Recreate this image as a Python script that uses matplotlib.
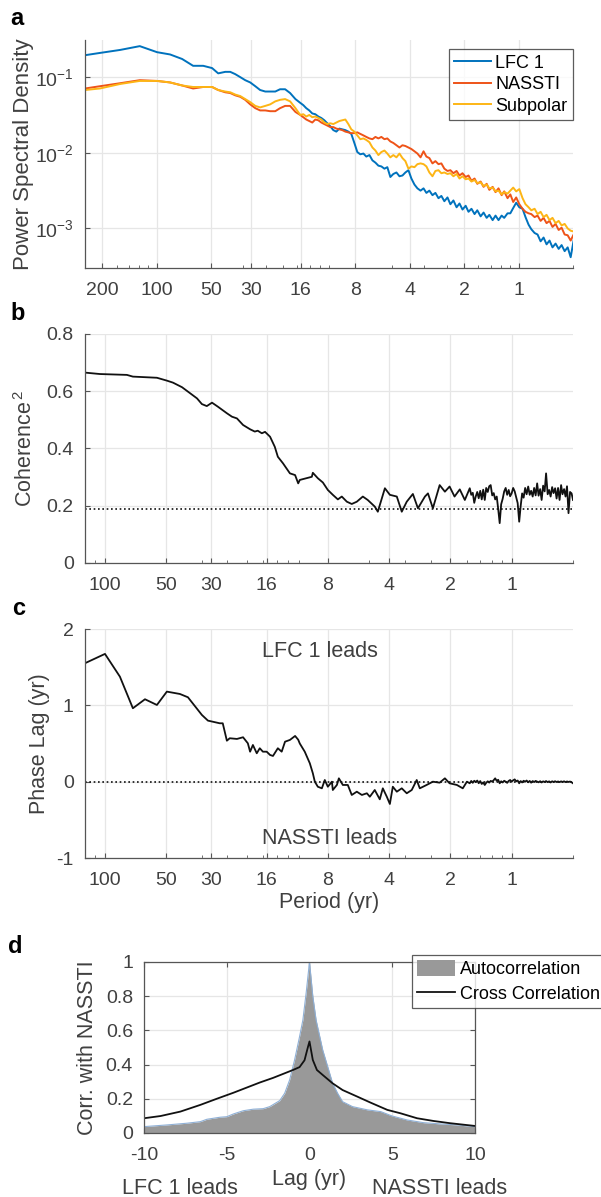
import numpy as np
import matplotlib
matplotlib.use("Agg")
import matplotlib.pyplot as plt
from matplotlib.ticker import LogLocator, NullFormatter, NullLocator, FixedLocator
from matplotlib.patches import Patch
from matplotlib.lines import Line2D

plt.rcParams["font.family"] = ["Liberation Sans", "DejaVu Sans"]
plt.rcParams["mathtext.fontset"] = "custom"
plt.rcParams["mathtext.rm"] = "Liberation Sans"
plt.rcParams["mathtext.it"] = "Liberation Sans:italic"
plt.rcParams["mathtext.bf"] = "Liberation Sans:bold"

# ---- panel a: power spectra (period in yr, log10 of PSD) ----
psd_period = [249, 206, 159, 124, 99.5, 84.3, 72.3, 62.9, 55.3, 49.4, 45.7, 41.8, 39.2,
              36.8, 34.5, 32.4, 30.4, 28.5, 26.8, 25.1, 23.6, 22.1, 20.8, 19.5, 18.3, 17.1,
              16.08, 15.47, 14.90, 14.34, 13.80, 13.28, 12.78, 12.30, 11.84, 11.40,
              10.97, 10.56, 10.16, 9.78, 9.42, 9.06, 8.72, 8.40, 8.08, 7.78,
              7.49, 7.20, 6.94, 6.67, 6.42, 6.18, 5.95, 5.73, 5.51, 5.31,
              5.11, 4.92, 4.73, 4.55, 4.38, 4.22, 4.06, 3.91, 3.76, 3.62,
              3.48, 3.35, 3.23, 3.11, 2.99, 2.88, 2.77, 2.67, 2.57, 2.47,
              2.38, 2.29, 2.20, 2.12, 2.04, 1.96, 1.89, 1.82, 1.75, 1.69,
              1.62, 1.56, 1.50, 1.45, 1.39, 1.34, 1.29, 1.24, 1.20, 1.15,
              1.11, 1.07, 1.03, 0.99, 0.95, 0.915, 0.88, 0.85, 0.815, 0.785,
              0.755, 0.727, 0.70, 0.674, 0.649, 0.624, 0.600, 0.578, 0.556, 0.535,
              0.515, 0.496]

lfc1_log = [-0.71, -0.68, -0.64, -0.59, -0.67, -0.70, -0.76, -0.85, -0.85, -0.88, -0.95, -0.93, -0.93,
            -0.96, -1.00, -1.04, -1.07, -1.12, -1.17, -1.19, -1.19, -1.19, -1.16, -1.16, -1.21, -1.29,
            -1.34, -1.37, -1.41, -1.44, -1.48, -1.49, -1.52, -1.54, -1.57, -1.61,
            -1.65, -1.70, -1.72, -1.68, -1.69, -1.70, -1.72, -1.75, -1.87, -1.99,
            -2.02, -2.01, -2.05, -2.03, -2.10, -2.13, -2.17, -2.18, -2.21, -2.19,
            -2.32, -2.28, -2.26, -2.31, -2.30, -2.26, -2.23, -2.34, -2.42, -2.47,
            -2.50, -2.47, -2.53, -2.50, -2.56, -2.53, -2.60, -2.57, -2.64, -2.59,
            -2.68, -2.63, -2.72, -2.67, -2.75, -2.70, -2.78, -2.74, -2.81, -2.76,
            -2.84, -2.79, -2.86, -2.82, -2.89, -2.83, -2.89, -2.83, -2.86, -2.80,
            -2.80, -2.73, -2.66, -2.72, -2.74, -2.85, -2.95, -3.01, -3.06, -3.08,
            -3.17, -3.12, -3.21, -3.16, -3.25, -3.20, -3.27, -3.22, -3.30, -3.25,
            -3.38, -3.16]

nassti_log = [-1.15, -1.12, -1.08, -1.04, -1.05, -1.07, -1.11, -1.15, -1.13, -1.13, -1.17, -1.20, -1.21,
              -1.24, -1.26, -1.30, -1.36, -1.41, -1.44, -1.44, -1.45, -1.45, -1.41, -1.38, -1.38, -1.46,
              -1.50, -1.53, -1.56, -1.58, -1.60, -1.56, -1.57, -1.60, -1.62, -1.64,
              -1.66, -1.66, -1.68, -1.69, -1.70, -1.72, -1.73, -1.74, -1.74, -1.73,
              -1.75, -1.77, -1.79, -1.81, -1.82, -1.79, -1.81, -1.79, -1.82, -1.81,
              -1.85, -1.87, -1.90, -1.93, -1.90, -1.91, -1.93, -1.95, -1.98, -2.01,
              -2.06, -1.98, -2.05, -2.07, -2.14, -2.11, -2.15, -2.14, -2.21, -2.24,
              -2.23, -2.27, -2.24, -2.30, -2.27, -2.32, -2.30, -2.37, -2.34, -2.41,
              -2.38, -2.45, -2.41, -2.49, -2.45, -2.52, -2.47, -2.56, -2.51, -2.60,
              -2.55, -2.65, -2.59, -2.68, -2.74, -2.78, -2.80, -2.81, -2.85, -2.83,
              -2.90, -2.86, -2.93, -2.90, -2.98, -2.94, -3.02, -2.99, -3.08, -3.09,
              -3.16, -3.08]

subpolar_log = [-1.17, -1.15, -1.09, -1.05, -1.05, -1.07, -1.11, -1.13, -1.13, -1.13, -1.17, -1.19, -1.20,
                -1.23, -1.25, -1.29, -1.33, -1.38, -1.40, -1.38, -1.36, -1.32, -1.30, -1.29, -1.32, -1.41,
                -1.50, -1.49, -1.52, -1.50, -1.53, -1.52, -1.54, -1.56, -1.60, -1.62,
                -1.61, -1.62, -1.60, -1.58, -1.57, -1.56, -1.62, -1.69, -1.72, -1.77,
                -1.82, -1.81, -1.83, -1.86, -1.93, -1.97, -2.03, -1.99, -1.97, -2.01,
                -2.06, -2.03, -2.06, -2.01, -2.07, -2.11, -2.21, -2.18, -2.19, -2.15,
                -2.14, -2.15, -2.18, -2.26, -2.31, -2.24, -2.23, -2.27, -2.26, -2.28,
                -2.27, -2.31, -2.28, -2.34, -2.31, -2.35, -2.34, -2.38, -2.36, -2.40,
                -2.39, -2.44, -2.42, -2.47, -2.46, -2.51, -2.50, -2.55, -2.52, -2.54,
                -2.50, -2.46, -2.51, -2.48, -2.60, -2.68, -2.72, -2.76, -2.74, -2.81,
                -2.78, -2.85, -2.82, -2.89, -2.86, -2.93, -2.90, -2.96, -2.94, -3.00,
                -3.03, -3.04]

# fine period grid for the noisy high-frequency end of panels b and c
hf_period = [1.608, 1.581, 1.554, 1.528, 1.503, 1.477, 1.453, 1.428, 1.404, 1.381,
             1.357, 1.335, 1.312, 1.290, 1.269, 1.247, 1.226, 1.206, 1.185, 1.166,
             1.146, 1.127, 1.108, 1.089, 1.071, 1.053, 1.035, 1.018, 1.001, 0.984,
             0.967, 0.951, 0.935, 0.919, 0.904, 0.889, 0.874, 0.859, 0.845, 0.830,
             0.816, 0.803, 0.789, 0.776, 0.763, 0.750, 0.738, 0.725, 0.713, 0.701,
             0.689, 0.678, 0.666, 0.655, 0.644, 0.633, 0.623, 0.612, 0.602, 0.592,
             0.582, 0.572, 0.563, 0.553, 0.544, 0.535, 0.526, 0.517, 0.508, 0.500]

# ---- panel b: squared coherence ----
coh_period = [125, 105.5, 77.8, 72.7, 55.4, 49.5, 46.2, 41.7, 38.1, 35.2, 33.3, 31.5, 29.7,
              27.8, 25.1, 23.7, 22.4, 20.9, 19.3, 18.3, 17.7, 16.9, 16.3, 15.4, 14.6, 14.1,
              13.3, 12.3, 11.6, 11.2, 11.0, 10.2, 9.60, 9.49, 8.97, 8.47, 8.01, 7.57, 7.15,
              6.84, 6.46, 6.11, 5.77, 5.39, 5.10, 4.71, 4.55, 4.20, 3.97, 3.67, 3.47, 3.28,
              3.06, 2.89, 2.67, 2.58, 2.44, 2.26, 2.13, 2.02, 1.91, 1.80, 1.70] + hf_period
coherence = [0.665, 0.660, 0.657, 0.651, 0.647, 0.637, 0.630, 0.614, 0.593, 0.575, 0.555, 0.548, 0.560,
             0.546, 0.523, 0.511, 0.505, 0.482, 0.467, 0.459, 0.462, 0.453, 0.458, 0.441, 0.406, 0.371,
             0.348, 0.313, 0.307, 0.278, 0.290, 0.296, 0.301, 0.315, 0.296, 0.281, 0.255, 0.238, 0.222,
             0.232, 0.214, 0.206, 0.214, 0.232, 0.220, 0.197, 0.179, 0.261, 0.238, 0.232, 0.179, 0.214,
             0.241, 0.191, 0.232, 0.243, 0.191, 0.272, 0.249, 0.267, 0.232, 0.257, 0.220,
             0.261, 0.238, 0.245, 0.210, 0.232, 0.248, 0.226, 0.252, 0.222, 0.256,
             0.220, 0.262, 0.248, 0.268, 0.272, 0.236, 0.244, 0.222, 0.232, 0.190,
             0.139, 0.205, 0.224, 0.250, 0.262, 0.238, 0.255, 0.233, 0.243, 0.262,
             0.250, 0.230, 0.209, 0.144, 0.198, 0.243, 0.228, 0.262, 0.240, 0.267,
             0.238, 0.252, 0.232, 0.262, 0.236, 0.278, 0.235, 0.258, 0.220, 0.270,
             0.250, 0.313, 0.240, 0.255, 0.232, 0.265, 0.244, 0.261, 0.225, 0.262,
             0.220, 0.272, 0.240, 0.258, 0.232, 0.268, 0.174, 0.248, 0.243, 0.220]
coh_sig = 0.19

# ---- panel c: phase lag ----
lag_period = [125, 99.7, 84.2, 72.7, 63.4, 55.4, 49.5, 42.7, 39.0, 33.3, 31.1, 27.2, 26.3,
              25.1, 24.3, 22.4, 20.9, 19.8, 19.3, 18.7, 17.9, 17.3, 16.7, 16.0, 15.4, 14.9,
              14.1, 13.5, 13.0, 12.3, 11.6, 11.2, 11.0, 10.4, 9.82, 9.49, 9.28, 8.97, 8.57,
              8.29, 8.01, 7.65, 7.57, 7.23, 7.07, 6.76, 6.39, 6.11, 5.77, 5.45, 5.15, 4.98,
              4.71, 4.45, 4.30, 4.11, 3.97, 3.84, 3.67, 3.47, 3.28, 3.10, 2.93, 2.83, 2.62,
              2.44, 2.26, 2.13, 2.02, 1.86, 1.74, 1.66] + hf_period
phase_lag = [1.552, 1.674, 1.376, 0.962, 1.080, 1.005, 1.180, 1.149, 1.106, 0.874, 0.800, 0.765, 0.765,
             0.537, 0.569, 0.560, 0.582, 0.503, 0.393, 0.481, 0.372, 0.438, 0.393, 0.393, 0.350, 0.337,
             0.438, 0.393, 0.524, 0.547, 0.599, 0.550, 0.500, 0.393, 0.241, 0.110, 0.0, -0.066, -0.087,
             0.022, -0.066, 0.0, -0.109, -0.043, 0.044, -0.043, -0.043, -0.174, -0.131, -0.174, -0.152, -0.197,
             -0.109, -0.231, -0.087, -0.197, -0.292, -0.066, -0.131, -0.087, -0.152, -0.109, 0.022, -0.087, -0.043,
             0.0, -0.013, 0.044, -0.021, -0.043, -0.087, 0.0,
             -0.021, 0.010, -0.015, 0.012, -0.005, 0.015, -0.020, 0.008, -0.030, -0.010,
             -0.043, -0.015, 0.005, -0.012, 0.010, 0.002, 0.020, 0.044, 0.010, 0.025,
             -0.021, 0.005, -0.010, 0.012, 0.0, -0.015, 0.010, 0.022, 0.0, 0.018,
             0.030, 0.005, 0.015, -0.021, 0.008, -0.010, 0.012, 0.0, 0.015, -0.008,
             0.010, -0.013, 0.008, -0.005, 0.010, 0.0, -0.008, 0.006, -0.010, 0.004,
             -0.004, 0.008, -0.006, 0.004, -0.010, 0.005, -0.004, 0.006, -0.005, 0.003,
             -0.006, 0.004, -0.004, 0.005, -0.006, 0.003, -0.004, 0.002, -0.008, -0.021]

# ---- panel d: correlations vs lag ----
acf_lag = [-10, -8.6, -7.4, -6.6, -6.2, -5.4, -5.0, -4.6, -4.0, -3.4, -2.8, -2.4, -1.8, -1.5,
           -1.2, -0.9, -0.6, -0.4, -0.2, 0, 0.2, 0.4, 0.8, 1.1, 1.4, 1.7, 2.0, 2.6, 3.5, 4.3,
           5.0, 5.9, 6.9, 7.9, 8.9, 10]
autocorr = [0.037, 0.047, 0.057, 0.066, 0.080, 0.092, 0.095, 0.111, 0.130, 0.139, 0.142, 0.154, 0.189, 0.232,
            0.310, 0.427, 0.563, 0.66, 0.82, 1.0, 0.80, 0.66, 0.485, 0.388, 0.29, 0.232, 0.183, 0.154, 0.135, 0.125,
            0.099, 0.076, 0.06, 0.053, 0.047, 0.037]
xcf_lag = [-10, -9.0, -7.8, -6.6, -5.6, -4.6, -3.8, -3.0, -2.2, -1.6, -1.0, -0.6, -0.3, -0.1, 0,
           0.2, 0.45, 0.8, 1.4, 2.0, 2.9, 3.7, 4.7, 5.5, 6.5, 7.5, 8.5, 10]
crosscorr = [0.086, 0.099, 0.125, 0.164, 0.200, 0.235, 0.265, 0.295, 0.322, 0.345, 0.368, 0.385, 0.425, 0.500, 0.535,
             0.427, 0.368, 0.339, 0.290, 0.251, 0.212, 0.177, 0.135, 0.115, 0.086, 0.070, 0.057, 0.041]

period_ticks_a = [200, 100, 50, 30, 16, 8, 4, 2, 1]
period_ticks_bc = [100, 50, 30, 16, 8, 4, 2, 1]

AX_COLOR = "#555555"
TXT_COLOR = "#404040"


def style(ax, box=False):
    for s in ["top", "right"]:
        ax.spines[s].set_visible(box)
    for s in ax.spines.values():
        s.set_color(AX_COLOR)
        s.set_linewidth(0.9)
    ax.tick_params(which="both", direction="in", colors=AX_COLOR, labelcolor=TXT_COLOR,
                   labelsize=14, top=box, right=box)
    ax.tick_params(which="major", length=3.5)
    ax.tick_params(which="minor", length=2)
    ax.tick_params(axis="x", pad=10)
    ax.tick_params(axis="y", pad=8)
    ax.grid(True, which="major", color="#e6e6e6", lw=0.9)
    ax.set_axisbelow(True)


def period_axis(ax, ticks, pmax):
    ax.set_xscale("log")
    ax.set_xlim(1 / pmax, 2)
    ax.set_xticks([1 / p for p in ticks], [str(p) for p in ticks])
    ax.xaxis.set_minor_locator(LogLocator(base=10, subs=np.arange(2, 10)))
    ax.xaxis.set_minor_formatter(NullFormatter())


fig = plt.figure(figsize=(6.01, 11.97), dpi=100)

# a
ax = fig.add_axes([0.1414, 0.7761, 0.812, 0.1905])
freq = 1 / np.array(psd_period)
ax.plot(freq, 10 ** np.array(lfc1_log), color="#0072BD", lw=1.4, label="LFC 1")
ax.plot(freq, 10 ** np.array(nassti_log), color="#EE5318", lw=1.4, label="NASSTI")
ax.plot(freq, 10 ** np.array(subpolar_log), color="#FDB515", lw=1.4, label="Subpolar")
ax.set_yscale("log")
ax.set_ylim(3e-4, 0.31)
ax.yaxis.set_major_locator(FixedLocator([1e-3, 1e-2, 1e-1]))
ax.yaxis.set_minor_locator(NullLocator())
period_axis(ax, period_ticks_a, 249)
style(ax)
ax.set_ylabel("Power Spectral Density", fontsize=16, color=TXT_COLOR)
ax.yaxis.set_label_coords(-0.105, 0.5)
leg = ax.legend(loc="upper right", bbox_to_anchor=(1.0, 0.96), fontsize=13, frameon=True,
                fancybox=False, borderaxespad=0, handlelength=2.05, handletextpad=0.25,
                labelspacing=0.25, borderpad=0.3)
leg.get_frame().set_edgecolor("#333333")
leg.get_frame().set_linewidth(0.9)

# b
ax = fig.add_axes([0.1414, 0.5297, 0.812, 0.1913])
ax.plot(1 / np.array(coh_period), coherence, color="#111111", lw=1.3)
ax.axhline(coh_sig, color="#111111", ls=(0, (1, 1.6)), lw=1.2)
period_axis(ax, period_ticks_bc, 125)
ax.set_ylim(0, 0.8)
ax.set_yticks([0, 0.2, 0.4, 0.6, 0.8], ["0", "0.2", "0.4", "0.6", "0.8"])
style(ax)
ax.set_ylabel("Coherence$^{\\,2}$", fontsize=15.5, color=TXT_COLOR)
ax.yaxis.set_label_coords(-0.098, 0.5)

# c
ax = fig.add_axes([0.1414, 0.2832, 0.812, 0.1913])
ax.plot(1 / np.array(lag_period), phase_lag, color="#111111", lw=1.3)
ax.axhline(0, color="#111111", ls=(0, (1, 1.6)), lw=1.2)
period_axis(ax, period_ticks_bc, 125)
ax.set_ylim(-1, 2)
ax.set_yticks([-1, 0, 1, 2], ["-1", "0", "1", "2"])
style(ax)
ax.set_ylabel("Phase Lag (yr)", fontsize=15.5, color=TXT_COLOR)
ax.yaxis.set_label_coords(-0.072, 0.5)
ax.set_xlabel("Period (yr)", fontsize=15.5, color=TXT_COLOR, labelpad=2)
ax.text(0.363, 0.90, "LFC 1 leads", transform=ax.transAxes, fontsize=15.5, color=TXT_COLOR,
        ha="left", va="center")
ax.text(0.363, 0.087, "NASSTI leads", transform=ax.transAxes, fontsize=15.5, color=TXT_COLOR,
        ha="left", va="center")

# d
ax = fig.add_axes([0.2396, 0.0535, 0.5507, 0.1429])
ax.fill_between(acf_lag, autocorr, 0, color="#999999", lw=0)
ax.plot(acf_lag, autocorr, color="#8fb0d6", lw=0.8)
ax.plot(xcf_lag, crosscorr, color="#111111", lw=1.3)
ax.set_xlim(-10, 10)
ax.set_ylim(0, 1)
ax.set_xticks([-10, -5, 0, 5, 10], ["-10", "-5", "0", "5", "10"])
ax.set_yticks([0, 0.2, 0.4, 0.6, 0.8, 1], ["0", "0.2", "0.4", "0.6", "0.8", "1"])
style(ax, box=True)
ax.set_ylabel("Corr. with NASSTI", fontsize=15.5, color=TXT_COLOR)
ax.yaxis.set_label_coords(-0.139, 0.5)
ax.set_xlabel("Lag (yr)", fontsize=15.5, color=TXT_COLOR, labelpad=4)
fig.text(180 / 601, 1 - 1188 / 1197, "LFC 1 leads", fontsize=15.5, color=TXT_COLOR, ha="center", va="center")
fig.text(440 / 601, 1 - 1188 / 1197, "NASSTI leads", fontsize=15.5, color=TXT_COLOR, ha="center", va="center")
handles = [Patch(facecolor="#999999", edgecolor="none"), Line2D([], [], color="#111111", lw=1.3)]
leg = ax.legend(handles, ["Autocorrelation", "Cross Correlation"], loc="upper left",
                bbox_to_anchor=(412 / 601, 1 - 955 / 1197), bbox_transform=fig.transFigure,
                fontsize=13, frameon=True, fancybox=False, borderaxespad=0, handlelength=2.1,
                handleheight=0.95, handletextpad=0.25, labelspacing=0.35, borderpad=0.3)
leg.get_frame().set_edgecolor("#333333")
leg.get_frame().set_linewidth(0.9)

# panel letters
for letter, xp, yp in [("a", 10, 25), ("b", 10, 320), ("c", 12, 615), ("d", 8, 953)]:
    fig.text(xp / 601, 1 - yp / 1197, letter, fontsize=17, fontweight="bold", va="baseline")

fig.savefig("out.png", dpi=100)
